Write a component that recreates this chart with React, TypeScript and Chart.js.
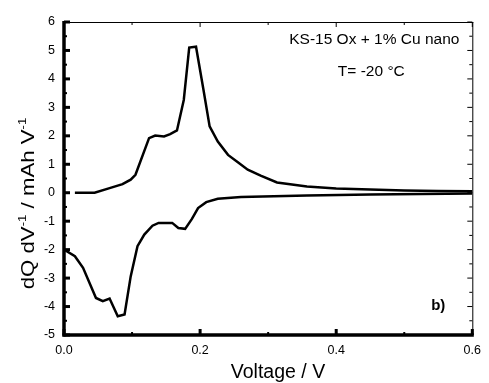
import React, { useEffect, useRef } from "react";
import { Chart, registerables } from "chart.js";

Chart.register(...registerables);

const chargeVoltage = [0.016, 0.045, 0.067, 0.086, 0.098, 0.105, 0.125, 0.134, 0.147, 0.156, 0.166, 0.176, 0.184, 0.194, 0.205, 0.214, 0.226, 0.241, 0.255, 0.27, 0.289, 0.313, 0.357, 0.4, 0.45, 0.5, 0.55, 0.6];
const chargeDQ = [0, 0.0, 0.16, 0.3, 0.46, 0.63, 1.92, 2.01, 1.98, 2.06, 2.19, 3.26, 5.1, 5.13, 3.61, 2.33, 1.8, 1.33, 1.08, 0.81, 0.6, 0.36, 0.22, 0.15, 0.11, 0.08, 0.06, 0.05];

const dischargeVoltage = [0.0, 0.016, 0.028, 0.047, 0.057, 0.067, 0.079, 0.089, 0.098, 0.108, 0.118, 0.13, 0.139, 0.159, 0.168, 0.178, 0.188, 0.197, 0.209, 0.226, 0.26, 0.357, 0.45, 0.6];
const dischargeDQ = [-2.0, -2.23, -2.64, -3.7, -3.81, -3.72, -4.34, -4.28, -2.94, -1.88, -1.47, -1.16, -1.06, -1.06, -1.24, -1.27, -0.92, -0.54, -0.33, -0.21, -0.15, -0.1, -0.06, -0.03];

const xTickValues = [0, 0.2, 0.4, 0.6];
const yTickValues = [-5, -4, -3, -2, -1, 0, 1, 2, 3, 4, 5, 6];

const xTitle = "Voltage / V";
const yTitleParts: [string, boolean][] = [
  ["dQ dV", false],
  ["-1", true],
  [" / mAh V", false],
  ["-1", true],
];
const sampleName = "KS-15 Ox + 1% Cu nano";
const temperature = "T= -20 °C";
const panelLabel = "b)";

const FONT = "'Liberation Sans', Arial, sans-serif";

const framePlugin = {
  id: "frame",
  afterDraw(chart: any) {
    const ctx: CanvasRenderingContext2D = chart.ctx;
    const { left, right, top, bottom } = chart.chartArea;
    const x = chart.scales.x;
    const y = chart.scales.y;
    ctx.save();
    ctx.setLineDash([]);
    ctx.globalAlpha = 1;
    ctx.strokeStyle = "rgb(0,0,0)";
    ctx.lineCap = "butt";
    const seg = (x1: number, y1: number, x2: number, y2: number, w: number) => {
      ctx.lineWidth = w;
      ctx.beginPath();
      ctx.moveTo(x1, y1);
      ctx.lineTo(x2, y2);
      ctx.stroke();
    };
    seg(left, top + 0.5, right + 1, top + 0.5, 1);
    seg(right + 0.5, top, right + 0.5, bottom, 1);
    seg(left, top - 1, left, bottom + 1.5, 3.5);
    seg(left - 1.5, bottom, right + 1.5, bottom, 3.5);
    for (let i = -10; i <= 12; i++) {
      const v = i / 2;
      const py = y.getPixelForValue(v);
      const major = i % 2 === 0;
      seg(left, py, left + (major ? 6 : 3), py, major ? 3 : 2);
      seg(right, py, right - (major ? 5 : 3), py, 1);
    }
    for (let i = 0; i <= 6; i++) {
      const px = x.getPixelForValue(i / 10);
      const major = i % 2 === 0;
      seg(px, bottom, px, bottom - (major ? 6 : 3), major ? 3 : 2);
      seg(px, top, px, top + (major ? 5 : 3), 1);
    }
    // annotations
    ctx.fillStyle = "#000";
    ctx.textAlign = "center";
    ctx.textBaseline = "middle";
    ctx.font = `15.5px ${FONT}`;
    const cx = x.getPixelForValue(0.456);
    ctx.fillText(sampleName, cx, y.getPixelForValue(5.37));
    ctx.fillText(temperature, cx - 3, y.getPixelForValue(4.25));
    ctx.font = `bold 15px ${FONT}`;
    ctx.fillText(panelLabel, x.getPixelForValue(0.55), y.getPixelForValue(-3.98));

    // x title
    ctx.font = `19.5px ${FONT}`;
    ctx.textBaseline = "alphabetic";
    ctx.fillText(xTitle, 278, 378);

    // y title (rotated, with superscripts)
    const mainFont = `18.5px ${FONT}`;
    const supFont = `11px ${FONT}`;
    let total = 0;
    const widths = yTitleParts.map(([t, sup]) => {
      ctx.font = sup ? supFont : mainFont;
      const w = ctx.measureText(t).width;
      total += w;
      return w;
    });
    ctx.translate(34, 203.5);
    ctx.rotate(-Math.PI / 2);
    ctx.scale(1.2, 1);
    ctx.textAlign = "left";
    let x0 = -total / 2;
    yTitleParts.forEach(([t, sup], i) => {
      ctx.font = sup ? supFont : mainFont;
      ctx.fillText(t, x0, sup ? -8 : 0);
      x0 += widths[i];
    });
    ctx.restore();
  },
};

export default function App() {
  const ref = useRef<HTMLCanvasElement | null>(null);
  useEffect(() => {
    document.body.style.margin = "0";
    const canvas = ref.current!;
    const chart = new Chart(canvas, {
      type: "line",
      data: {
        datasets: [
          {
            data: chargeVoltage.map((v, i) => ({ x: v, y: chargeDQ[i] })),
            borderColor: "#000",
            borderWidth: 2.5,
            pointRadius: 0,
            tension: 0,
            fill: false,
          },
          {
            data: dischargeVoltage.map((v, i) => ({ x: v, y: dischargeDQ[i] })),
            borderColor: "#000",
            borderWidth: 2.5,
            pointRadius: 0,
            tension: 0,
            fill: false,
          },
        ],
      },
      options: {
        animation: false,
        responsive: false,
        layout: { padding: { top: 22, right: 12, left: 0, bottom: 0 } },
        plugins: { legend: { display: false }, tooltip: { enabled: false } },
        scales: {
          x: {
            type: "linear",
            min: 0,
            max: 0.6,
            afterBuildTicks: (s: any) => {
              s.ticks = xTickValues.map((v) => ({ value: v }));
            },
            afterFit: (s: any) => {
              s.height = 48;
            },
            grid: { display: false, drawTicks: false },
            border: { display: false },
            ticks: {
              color: "#000",
              font: { family: FONT, size: 12.5 },
              padding: 8,
              maxRotation: 0,
              callback: (v: any) => Number(v).toFixed(1),
            },
            title: { display: false },
          },
          y: {
            type: "linear",
            min: -5,
            max: 6,
            afterBuildTicks: (s: any) => {
              s.ticks = yTickValues.map((v) => ({ value: v }));
            },
            afterFit: (s: any) => {
              s.width = 64;
            },
            grid: { display: false, drawTicks: false },
            border: { display: false },
            ticks: {
              color: "#000",
              font: { family: FONT, size: 12.5 },
              padding: 9,
              callback: (v: any) => String(v),
            },
            title: { display: false },
          },
        },
      },
      plugins: [framePlugin],
    });
    return () => chart.destroy();
  }, []);
  return <canvas ref={ref} width={489} height={383} style={{ display: "block" }} />;
}
